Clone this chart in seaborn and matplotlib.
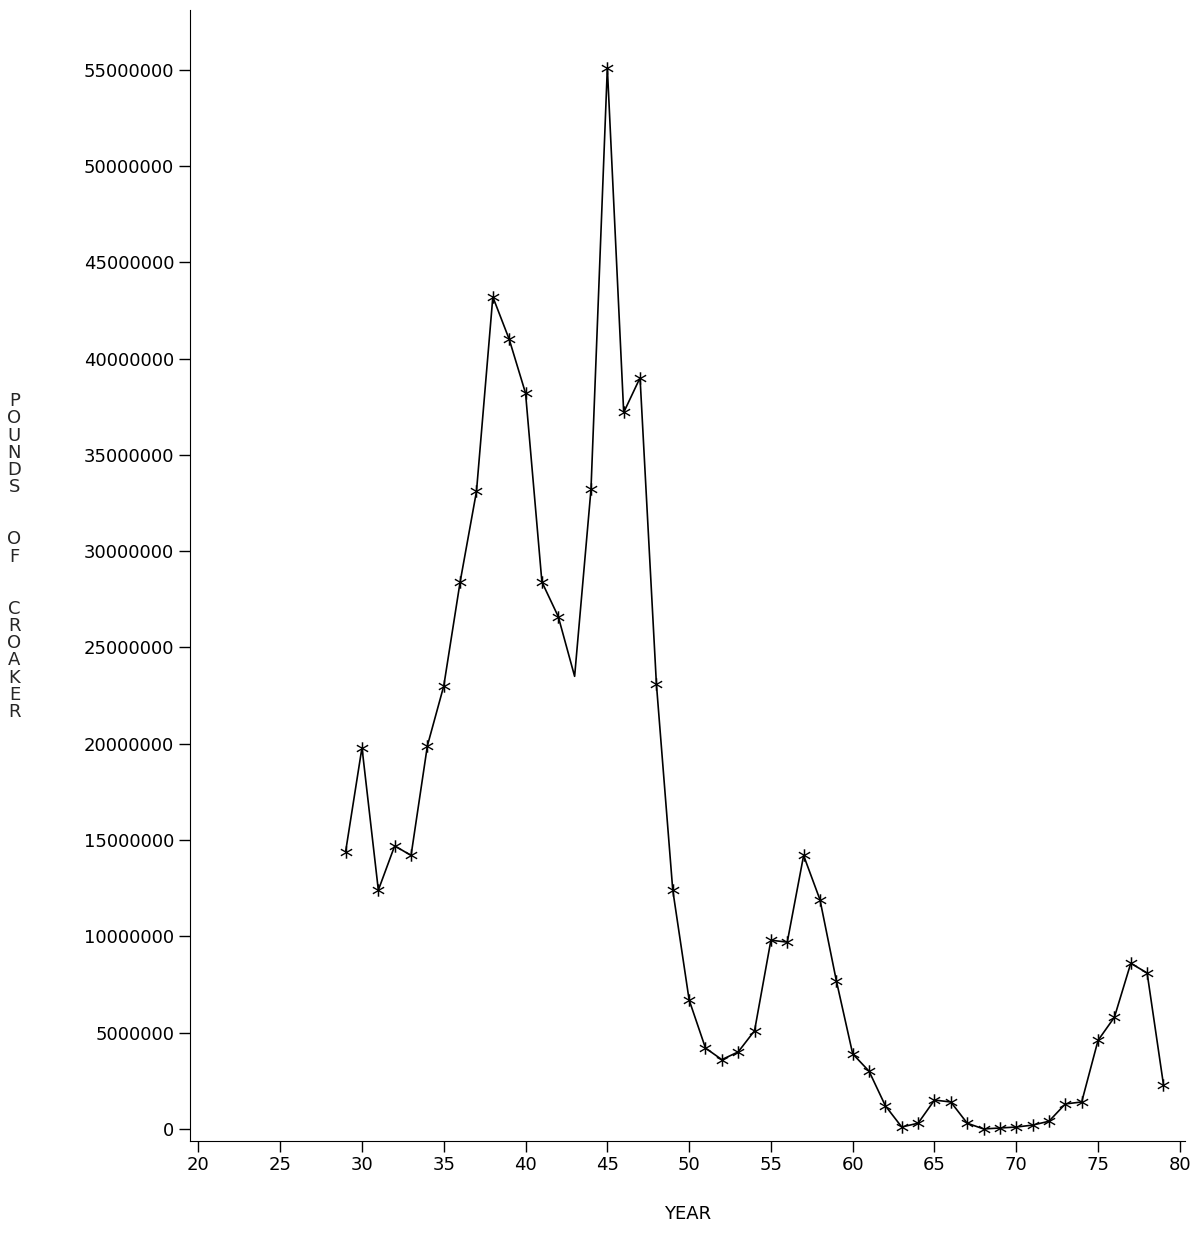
import matplotlib
matplotlib.use("Agg")
import matplotlib.pyplot as plt
import seaborn as sns
import pandas as pd

years = list(range(29, 80))
pounds_m = [14.4, 19.8, 12.4, 14.7, 14.2, 19.9, 23.0, 28.4, 33.1, 43.2,
            41.0, 38.2, 28.4, 26.6, 23.5, 33.2, 55.1, 37.2, 39.0, 23.1,
            12.4, 6.7, 4.2, 3.6, 4.0, 5.1, 9.8, 9.7, 14.2, 11.9,
            7.7, 3.9, 3.0, 1.2, 0.1, 0.3, 1.5, 1.4, 0.3, 0.0,
            0.05, 0.1, 0.2, 0.4, 1.3, 1.4, 4.6, 5.8, 8.6, 8.1, 2.3]
no_marker_years = [43]
xticks = list(range(20, 81, 5))
yticks = list(range(0, 55000001, 5000000))

df = pd.DataFrame({"year": years, "pounds": [v * 1e6 for v in pounds_m]})
dfm = df[~df["year"].isin(no_marker_years)]

sns.set_style("white")
plt.rcParams['font.family'] = ['DejaVu Sans']
fig = plt.figure(figsize=(12.04, 12.37), dpi=100)
ax = fig.add_axes([0.158, 0.078, 0.826, 0.914])
sns.lineplot(data=df, x="year", y="pounds", color="black", linewidth=1.2, ax=ax)
sns.scatterplot(data=dfm, x="year", y="pounds", marker="$*$", s=80, color="black", linewidth=0, ax=ax)

ax.set_xlim(19.5, 80.3)
ax.set_ylim(-600000, 58100000)
ax.set_xticks(xticks)
ax.set_xticklabels([str(t) for t in xticks], fontsize=13, color="black")
ax.set_yticks(yticks)
ax.set_yticklabels([str(t) for t in yticks], fontsize=13, color="black")
ax.tick_params(axis="both", direction="out", length=8, width=1, color="black", bottom=True, left=True)
for s in ["top", "right"]:
    ax.spines[s].set_visible(False)
for s in ["left", "bottom"]:
    ax.spines[s].set_color("black")
ax.set_xlabel("YEAR", fontsize=13, labelpad=22, color="black")
ax.set_ylabel("")
fig.text(0.012, 0.55, "\n".join("POUNDS  OF  CROAKER"), fontsize=13, ha="center", va="center", linespacing=0.95)
fig.savefig("out.png", dpi=100, facecolor="white")
